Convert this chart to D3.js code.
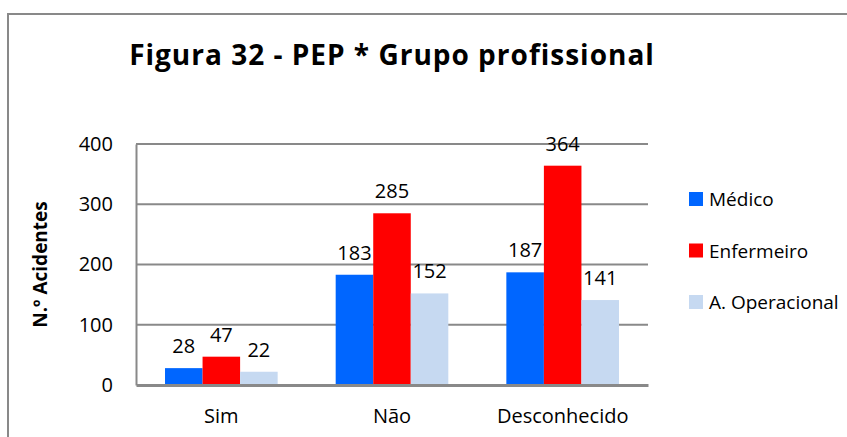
<!DOCTYPE html>
<html>
<head>
<meta charset="utf-8">
<script src="https://cdn.jsdelivr.net/npm/d3@7"></script>
<style>
  body { margin: 0; background: #fff; }
  text { font-family: "Open Sans", sans-serif; fill: #000; }
</style>
</head>
<body>
<div class="chart"></div>
<script>
const categories = ["Sim", "Não", "Desconhecido"];
const groups = ["Médico", "Enfermeiro", "A. Operacional"];
const medico = [28, 183, 187];
const enfermeiro = [47, 285, 364];
const operacional = [22, 152, 141];
const yTicks = [0, 100, 200, 300, 400];

const colors = ["#0066ff", "#ff0000", "#c6d9f1"];
const series = [medico, enfermeiro, operacional];

const W = 847, H = 437;
const margin = {top: 144, left: 136, right: 199, bottom: 52};

const svg = d3.select('.chart')
    .append('svg')
    .attr('width', W)
    .attr('height', H);

// outer frame (only top and left visible, chart is cropped)
svg.append('path')
    .attr('d', `M8,${H} V14 H${W}`)
    .attr('fill', 'none')
    .attr('stroke', '#898989')
    .attr('stroke-width', 2);

svg.append('text')
    .attr('x', 392)
    .attr('y', 65)
    .attr('text-anchor', 'middle')
    .style('font-size', '28px')
    .style('font-weight', 'bold')
    .style('letter-spacing', '1px')
    .text('Figura 32 - PEP * Grupo profissional');

const x0 = d3.scaleBand()
    .domain(categories)
    .range([margin.left, W - margin.right])
    .paddingInner(0.34)
    .paddingOuter(0.17);

const x1 = d3.scaleBand()
    .domain(groups)
    .range([0, x0.bandwidth()]);

const y = d3.scaleLinear()
    .domain([0, 400])
    .range([H - margin.bottom, margin.top]);

// gridlines
svg.append('g')
    .selectAll('line')
    .data(yTicks.filter(d => d > 0))
    .enter()
    .append('line')
        .attr('x1', margin.left)
        .attr('x2', W - margin.right)
        .attr('y1', d => y(d))
        .attr('y2', d => y(d))
        .attr('stroke', '#898989')
        .attr('stroke-width', 1.8);

// bars
const data = [];
categories.forEach((c, i) => {
    groups.forEach((g, j) => {
        data.push({cat: c, grp: g, val: series[j][i], color: colors[j]});
    });
});

svg.append('g')
    .selectAll('rect')
    .data(data)
    .enter()
    .append('rect')
        .attr('x', d => x0(d.cat) + x1(d.grp))
        .attr('y', d => y(d.val))
        .attr('width', x1.bandwidth())
        .attr('height', d => y(0) - y(d.val))
        .style('fill', d => d.color);

svg.append('g')
    .selectAll('text')
    .data(data)
    .enter()
    .append('text')
        .attr('x', d => x0(d.cat) + x1(d.grp) + x1.bandwidth() / 2)
        .attr('y', d => y(d.val) - 15)
        .attr('text-anchor', 'middle')
        .style('font-size', '20px')
        .text(d => d.val);

// y axis
const yAxis = d3.axisLeft(y)
    .tickValues(yTicks)
    .tickSize(0)
    .tickPadding(23);

const yg = svg.append('g')
    .attr('transform', `translate(${margin.left},0)`)
    .call(yAxis);
yg.select('.domain').attr('stroke', '#898989').attr('stroke-width', 2);
yg.selectAll('text')
    .style('font-size', '20px')
    .style('font-family', '"Open Sans", sans-serif')
    .attr('fill', '#000');

// x axis
const xAxis = d3.axisBottom(x0)
    .tickSize(0)
    .tickPadding(24);

const xg = svg.append('g')
    .attr('transform', `translate(0,${y(0)})`)
    .call(xAxis);
xg.select('.domain').attr('stroke', '#898989').attr('stroke-width', 3);
xg.selectAll('text')
    .style('font-size', '20px')
    .style('font-family', '"Open Sans", sans-serif')
    .attr('fill', '#000');

svg.append('text')
    .attr('transform', `translate(47,${(y(0) + y(400)) / 2}) rotate(-90)`)
    .attr('text-anchor', 'middle')
    .style('font-size', '19px')
    .style('font-weight', 'bold')
    .text('N.º Acidentes');

// legend
const legend = svg.append('g')
    .selectAll('g')
    .data(groups)
    .enter()
    .append('g')
        .attr('transform', (d, i) => `translate(689,${192 + i * 51.5})`);

legend.append('rect')
    .attr('width', 14)
    .attr('height', 14)
    .style('fill', (d, i) => colors[i]);

legend.append('text')
    .attr('x', 20)
    .attr('y', 14)
    .style('font-size', '19px')
    .text(d => d);
</script>
</body>
</html>
